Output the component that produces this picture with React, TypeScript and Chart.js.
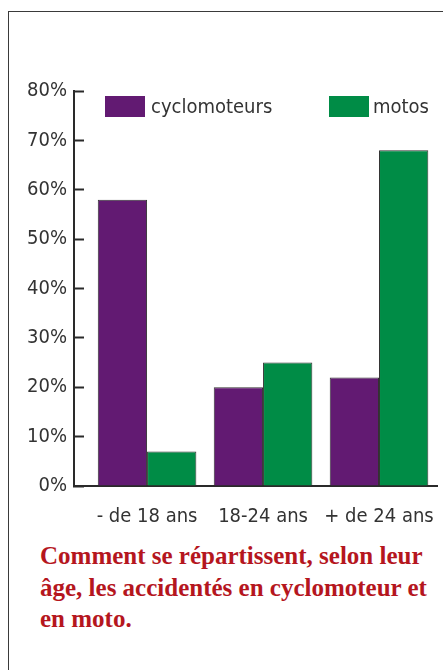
import React, { useEffect, useRef } from "react";
import { Chart, registerables } from "chart.js";

Chart.register(...registerables);

const categories = ["- de 18 ans", "18-24 ans", "+ de 24 ans"];
const seriesNames = ["cyclomoteurs", "motos"];
const cyclomoteurs = [58, 20, 22];
const motos = [7, 25, 68];
const seriesColors = ["#621a72", "#008c46"];
const yTickValues = [0, 10, 20, 30, 40, 50, 60, 70, 80];
const titleLines = [
  "Comment se répartissent, selon leur",
  "âge, les accidentés en cyclomoteur et",
  "en moto.",
];

const SANS = "'DejaVu Sans Condensed', 'DejaVu Sans', sans-serif";
const INK = "#333333";
const AXIS = "#2a2a2a";

export default function App() {
  const ref = useRef<HTMLCanvasElement | null>(null);

  useEffect(() => {
    document.body.style.margin = "0";
    const canvas = ref.current;
    if (!canvas) return;
    const toPoints = (vals: number[]) => vals.map((v, i) => ({ x: i, y: v }));
    const chart = new Chart(canvas, {
      type: "bar",
      data: {
        datasets: [
          {
            label: seriesNames[0],
            data: toPoints(cyclomoteurs),
            backgroundColor: seriesColors[0],
            borderColor: "#333333",
            borderWidth: 1,
            categoryPercentage: 0.85,
            barPercentage: 1.0,
          },
          {
            label: seriesNames[1],
            data: toPoints(motos),
            backgroundColor: seriesColors[1],
            borderColor: "#333333",
            borderWidth: 1,
            categoryPercentage: 0.85,
            barPercentage: 1.0,
          },
        ],
      },
      options: {
        animation: false,
        responsive: false,
        devicePixelRatio: 1,
        layout: { padding: { left: 8, right: 6, top: 91, bottom: 0 } },
        plugins: { legend: { display: false }, tooltip: { enabled: false } },
        scales: {
          x: {
            type: "linear",
            offset: false,
            bounds: "data",
            min: -0.63,
            max: 2.5,
            afterBuildTicks: (scale: any) => {
              scale.ticks = categories.map((_, i) => ({ value: i }));
            },
            afterFit: (scale: any) => {
              scale.height = 54;
              scale.paddingLeft = 0;
              scale.paddingRight = 0;
            },
            grid: { display: false, offset: false },
            border: { display: true, color: AXIS, width: 2 },
            ticks: {
              autoSkip: false,
              maxRotation: 0,
              padding: 11,
              color: INK,
              font: { family: SANS, size: 20 },
              callback: (v: any) => categories[v as number] ?? "",
            },
          },
          y: {
            min: 0,
            max: 80,
            afterBuildTicks: (scale: any) => {
              scale.ticks = yTickValues.map((v) => ({ value: v }));
            },
            afterFit: (scale: any) => {
              scale.width = 66;
            },
            grid: {
              drawOnChartArea: false,
              drawTicks: true,
              tickLength: -10,
              tickWidth: 2,
              tickColor: AXIS,
            },
            border: { display: true, color: AXIS, width: 2 },
            ticks: {
              padding: 17,
              color: INK,
              font: { family: SANS, size: 20 },
              callback: (v: any) => `${v}%`,
            },
          },
        },
      },
    });
    return () => chart.destroy();
  }, []);

  const legendItems = [
    { left: 105, textLeft: 151 },
    { left: 329, textLeft: 373 },
  ];

  return (
    <div style={{ position: "absolute", left: 0, top: 0, width: 443, height: 670, background: "#fff", overflow: "hidden" }}>
      <div
        style={{
          position: "absolute",
          left: 8,
          top: 11,
          width: 460,
          height: 700,
          borderTop: "1.5px solid #3a3a3a",
          borderLeft: "1.5px solid #3a3a3a",
        }}
      />
      <canvas ref={ref} width={443} height={540} style={{ position: "absolute", left: 0, top: 0, width: 443, height: 540 }} />
      {seriesNames.map((name, i) => (
        <React.Fragment key={name}>
          <div
            style={{
              position: "absolute",
              left: legendItems[i].left,
              top: 96,
              width: 40,
              height: 21,
              background: seriesColors[i],
            }}
          />
          <div
            style={{
              position: "absolute",
              left: legendItems[i].textLeft,
              top: 93,
              fontFamily: SANS,
              fontSize: 20,
              lineHeight: "26px",
              color: INK,
              whiteSpace: "nowrap",
            }}
          >
            {name}
          </div>
        </React.Fragment>
      ))}
      <div
        style={{
          position: "absolute",
          left: 40,
          top: 540,
          fontFamily: "'Liberation Serif', 'DejaVu Serif', serif",
          fontWeight: 700,
          fontSize: 25,
          lineHeight: "31.5px",
          color: "#b5161e",
          whiteSpace: "nowrap",
          letterSpacing: "0px",
        }}
      >
        {titleLines.map((l, i) => (
          <div key={i}>{l}</div>
        ))}
      </div>
    </div>
  );
}
